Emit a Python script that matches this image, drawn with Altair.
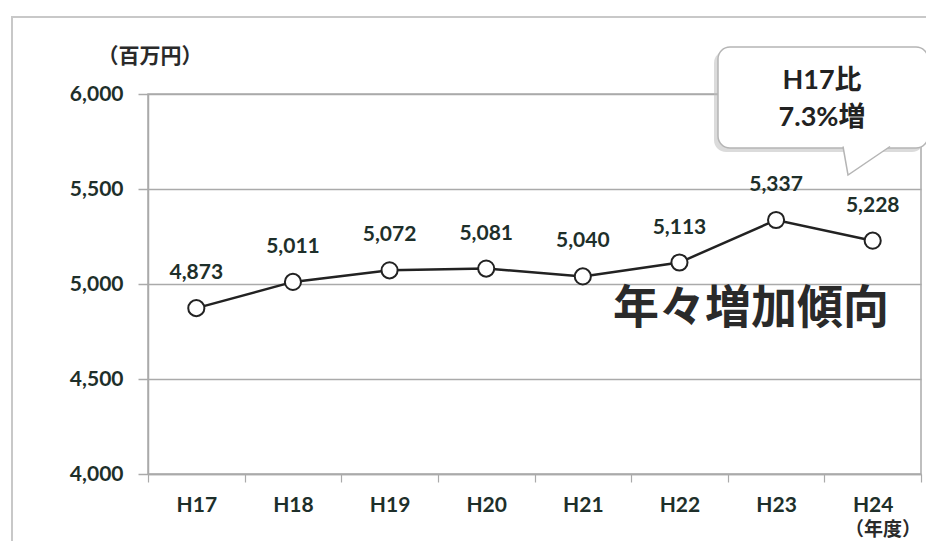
import altair as alt
import pandas as pd

years = ["H17", "H18", "H19", "H20", "H21", "H22", "H23", "H24"]
values = [4873, 5011, 5072, 5081, 5040, 5113, 5337, 5228]
y_ticks = [4000, 4500, 5000, 5500, 6000]

unit_label = "（百万円）"
year_label = "（年度）"
callout_lines = ["H17比", "7.3%増"]
trend_text = "年々増加傾向"

FONT = "Lato, 'Noto Sans CJK JP', sans-serif"
JP = "'Noto Sans CJK JP', sans-serif"
TXT = "#1e2f2a"
GRID = "#aaaaaa"

df = pd.DataFrame({"year": years, "value": values})
one = pd.DataFrame({"k": [0]})

x_enc = alt.X("year:N", sort=years, bandPosition=0.5,
              scale=alt.Scale(type="band", paddingInner=0, paddingOuter=0),
              axis=alt.Axis(title=None, tickBand="extent", grid=False, domain=True,
                            domainColor=GRID, domainWidth=1.5, tickColor=GRID, tickWidth=1.2,
                            tickSize=8, labelAngle=0, labelPadding=12, labelFontSize=21,
                            labelFont=FONT, labelFontWeight="bold", labelColor=TXT))
y_enc = alt.Y("value:Q", scale=alt.Scale(domain=[4000, 6000]),
              axis=alt.Axis(title=None, values=y_ticks, format=",d", grid=True,
                            gridColor=GRID, gridWidth=1.5, domain=True, domainColor=GRID,
                            domainWidth=1.5, tickColor=GRID, tickSize=10, tickWidth=1.5,
                            labelPadding=15, labelFontSize=21, labelFont=FONT,
                            labelFontWeight="bold", labelColor=TXT))

base = alt.Chart(df)
line = base.mark_line(color="#222222", strokeWidth=2.5).encode(x=x_enc, y=y_enc)
pts = base.mark_point(shape="circle", filled=True, fill="white", stroke="#222222",
                      strokeWidth=2, size=260, opacity=1).encode(x=x_enc, y=y_enc)
lbl = base.mark_text(dy=-35, fontSize=21, fontWeight="bold", font=FONT, color=TXT,
                     baseline="middle").encode(x=x_enc, y=y_enc,
                                               text=alt.Text("value:Q", format=",d"))

ann = alt.Chart(one)
frame = ann.mark_rect(fill=None, stroke="#c8c8c8", strokeWidth=2).encode(
    x=alt.value(-136), x2=alt.value(800), y=alt.value(-77), y2=alt.value(520))
shadow = ann.mark_rect(fill="#bdbdbd", opacity=0.55, cornerRadius=12).encode(
    x=alt.value(566), x2=alt.value(776), y=alt.value(-43), y2=alt.value(58))
box = ann.mark_rect(fill="white", stroke="#b5b5b5", strokeWidth=1.5, cornerRadius=12).encode(
    x=alt.value(570), x2=alt.value(780), y=alt.value(-47), y2=alt.value(54))
tail = ann.mark_point(shape="M -5 -1.5 L 0 27 L 42 -1.5", filled=True, fill="white",
                      stroke="#b5b5b5", strokeWidth=1.5, size=4, opacity=1).encode(
    x=alt.value(700), y=alt.value(54))
c1 = ann.mark_text(text=callout_lines[0], fontSize=27, fontWeight="bold", font=FONT,
                   color="#222222").encode(x=alt.value(674), y=alt.value(-13))
c2 = ann.mark_text(text=callout_lines[1], fontSize=27, fontWeight="bold", font=FONT,
                   color="#222222").encode(x=alt.value(674), y=alt.value(24))
trend = ann.mark_text(text=trend_text, fontSize=46, fontWeight="bold", font=JP,
                      color="#2a2a2a").encode(x=alt.value(603), y=alt.value(215))
unit = ann.mark_text(text=unit_label, fontSize=21, fontWeight="bold", font=JP,
                     color="#2a2a2a").encode(x=alt.value(2), y=alt.value(-37))
yr = ann.mark_text(text=year_label, fontSize=19, fontWeight="bold", font=JP,
                   color="#2a2a2a").encode(x=alt.value(735), y=alt.value(436))

chart = alt.layer(frame, line, pts, lbl, trend, shadow, box, tail, c1, c2, unit, yr).properties(
    width=773, height=380,
    autosize=alt.AutoSizeParams(type="none"),
    padding={"left": 140, "top": 86, "right": 5, "bottom": 67},
    background="white",
).configure_view(stroke=GRID, strokeWidth=1.5)

chart.save("out.html", embed_options={"renderer": "svg", "actions": False})
